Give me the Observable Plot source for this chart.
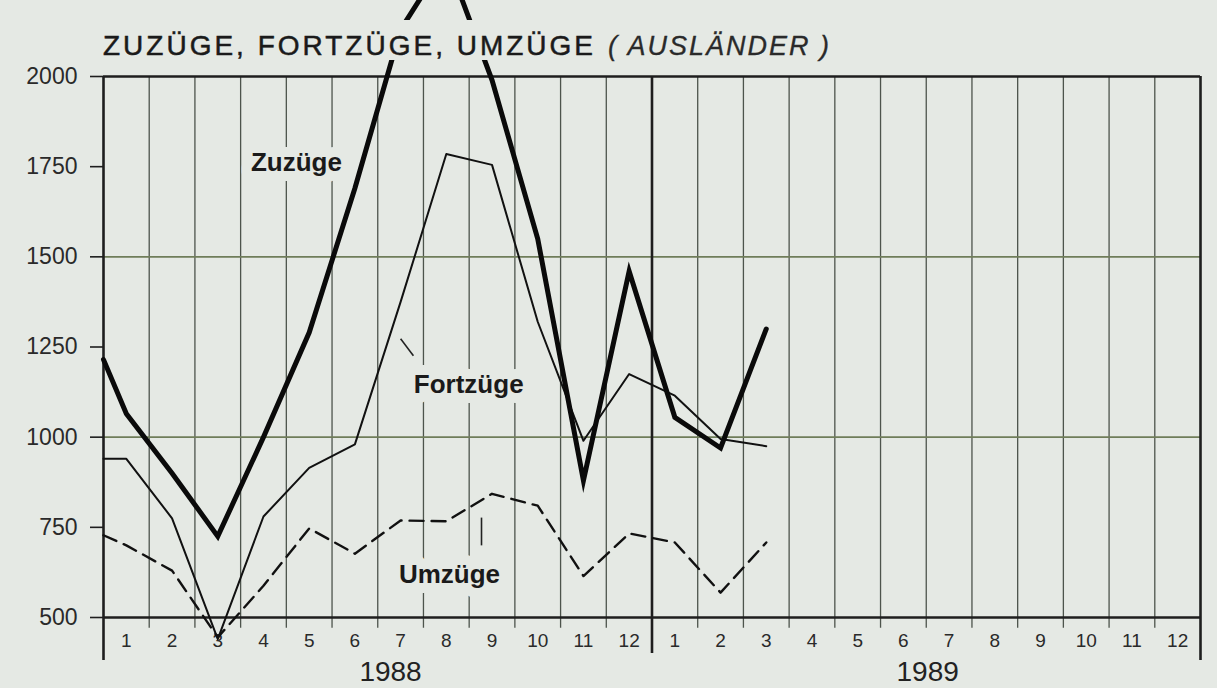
<!DOCTYPE html>
<html>
<head>
<meta charset="utf-8">
<script src="https://cdn.jsdelivr.net/npm/d3@7"></script>
<script src="https://cdn.jsdelivr.net/npm/@observablehq/plot@0.6"></script>
<style>
  html, body { margin: 0; padding: 0; background: #e5e9e4; }
  #wrap { position: relative; width: 1217px; height: 688px; overflow: hidden; background: #e5e9e4; }
  #title {
    position: absolute; left: 98px; top: 20px; padding: 12px 10px 0 5px;
    background: #e5e9e4; font-family: "Liberation Sans", Arial, sans-serif;
    font-size: 28px; line-height: 28px; color: #1a1a1a; letter-spacing: 3px; white-space: nowrap;
    -webkit-text-stroke: 0.5px #1a1a1a;
  }
  #title i { letter-spacing: 2px; font-size: 27px; color: #2a2a2a; margin-left: 12px; -webkit-text-stroke: 0.3px #2a2a2a; }
</style>
</head>
<body>
<div id="wrap">
  <div id="chart"></div>
  <div id="title">ZUZÜGE, FORTZÜGE, UMZÜGE<i>( AUSLÄNDER )</i></div>
</div>
<script>
// x position in months since Jan 1988 (1 = Jan 1988 ... 15 = Mar 1989); 0.5 = left edge of chart
const monthPos = [0.5, 1, 2, 3, 4, 5, 6, 7, 8, 9, 10, 11, 12, 13, 14, 15];
const zuzuege  = [1215, 1065, 900, 725, 1000, 1290, 1690, 2130, 2330, 1990, 1550, 880, 1460, 1055, 970, 1300];
const fortzuege = [940, 940, 775, 440, 780, 915, 980, 1375, 1785, 1755, 1320, 990, 1175, 1115, 995, 975];
const umzuege  = [728, 700, 630, 445, 588, 747, 677, 769, 767, 843, 810, 615, 733, 708, 569, 708];

const yTicks = [500, 750, 1000, 1250, 1500, 1750, 2000];
const yGrid = [1000, 1500];
const monthTicks = d3.range(1, 25);
const monthLabels = ["1","2","3","4","5","6","7","8","9","10","11","12","1","2","3","4","5","6","7","8","9","10","11","12"];
const yearLabels = ["1988", "1989"];
const yearPos = [6.78, 18.53];

const seriesLabels = ["Zuzüge", "Fortzüge", "Umzüge"];
const seriesLabelX = [4.72, 8.49, 8.07];
const seriesLabelY = [1760, 1145, 620];
// leader strokes next to labels (month position, value)
const leaders = [
  {x1: 7.0, y1: 1273, x2: 7.28, y2: 1226},
  {x1: 8.77, y1: 777, x2: 8.77, y2: 700}
];

const bg = "#e5e9e4";
const font = "'Liberation Sans', Arial, sans-serif";

const rows = s => monthPos.map((x, i) => ({x, y: s[i]}));
const boundaries = d3.range(0.5, 25, 1);
const monthLines = boundaries.filter(b => b !== 0.5 && b !== 12.5 && b !== 24.5);

const chart = Plot.plot({
  width: 1217,
  height: 688,
  marginTop: 76,
  marginBottom: 71,
  marginLeft: 103,
  marginRight: 17,
  style: {background: bg, fontFamily: font, color: "#2a2a2a", overflow: "visible"},
  x: {domain: [0.5, 24.5], axis: null},
  y: {domain: [500, 2000], axis: null},
  marks: [
    // month grid lines
    Plot.ruleX(monthLines, {x: d => d, y1: 2000, y2: 470, stroke: "#4d544c", strokeWidth: 1.3}),
    // horizontal grid
    Plot.ruleY(yGrid, {y: d => d, x1: 0.5, x2: 24.5, stroke: "#6f7d5a", strokeWidth: 1.6}),
    // frame
    Plot.ruleY([2000], {x1: 0.5, x2: 24.5, stroke: "#1e1e1e", strokeWidth: 2.6}),
    Plot.ruleY([500], {x1: 0.5, x2: 24.5, stroke: "#1e1e1e", strokeWidth: 2.6}),
    Plot.ruleX([0.5], {y1: 2000, y2: 381, stroke: "#1e1e1e", strokeWidth: 2.6}),
    Plot.ruleX([24.5], {y1: 2000, y2: 381, stroke: "#1e1e1e", strokeWidth: 2.6}),
    Plot.ruleX([12.5], {y1: 2000, y2: 400, stroke: "#1e1e1e", strokeWidth: 2.6}),
    // y axis
    Plot.axisY({ticks: yTicks, tickSize: 13, tickPadding: 13, fontSize: 23, tickFormat: d => String(d), stroke: "#1e1e1e", strokeWidth: 1.6}),
    // month labels
    Plot.text(monthTicks, {x: d => d, y: 500, text: (d, i) => monthLabels[i], dy: 23, fontSize: 19, fill: "#2a2a2a"}),
    // year labels
    Plot.text(yearLabels, {x: (d, i) => yearPos[i], y: 500, text: d => d, lineAnchor: "top", dy: 44, fontSize: 28, fill: "#222"}),
    // series labels with halo covering grid
    Plot.text(seriesLabels, {x: (d, i) => seriesLabelX[i], y: (d, i) => seriesLabelY[i], text: d => d,
      fontSize: 26, fontWeight: "bold", fill: "#1a1a1a", stroke: bg, strokeWidth: 20, paintOrder: "stroke"}),
    Plot.link(leaders, {x1: "x1", y1: "y1", x2: "x2", y2: "y2", stroke: "#222", strokeWidth: 1.6}),
    // series
    Plot.line(rows(umzuege), {x: "x", y: "y", stroke: "#111", strokeWidth: 2.4, strokeDasharray: "14,8"}),
    Plot.line(rows(fortzuege), {x: "x", y: "y", stroke: "#111", strokeWidth: 2}),
    Plot.line(rows(zuzuege), {x: "x", y: "y", stroke: "#0a0a0a", strokeWidth: 5, strokeLinejoin: "miter", strokeMiterlimit: 6})
  ]
});
document.getElementById("chart").appendChild(chart);
</script>
</body>
</html>
